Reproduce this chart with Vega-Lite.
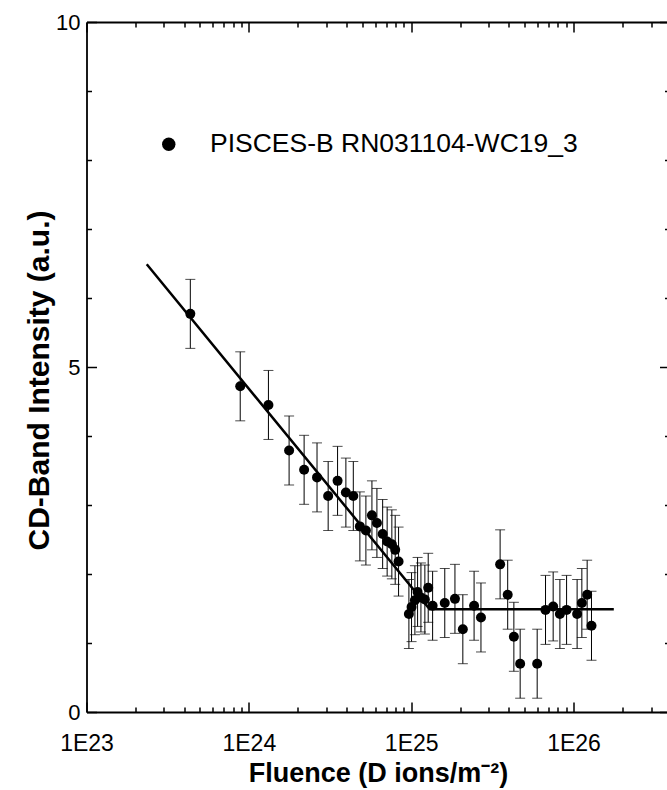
{
  "$schema": "https://vega.github.io/schema/vega-lite/v6.json",
  "width": 583,
  "height": 690,
  "autosize": "none",
  "padding": {"left": 86.5, "top": 22, "right": 0, "bottom": 78},
  "background": "white",
  "config": {
    "view": {"stroke": null},
    "font": "Liberation Sans",
    "axis": {"grid": false, "domainColor": "black", "domainWidth": 1.8, "tickColor": "black", "tickWidth": 1.5, "labelColor": "black", "titleColor": "black", "labelFont": "Liberation Sans", "titleFont": "Liberation Sans", "labelOverlap": false, "labelFlush": false}
  },
  "datasets": {
    "pts": [
      {"fluence": 4.36e23, "intensity": 5.77, "err": 0.5, "series": "PISCES-B RN031104-WC19_3"},
      {"fluence": 8.85e23, "intensity": 4.72, "err": 0.5, "series": "PISCES-B RN031104-WC19_3"},
      {"fluence": 1.32e24, "intensity": 4.45, "err": 0.5, "series": "PISCES-B RN031104-WC19_3"},
      {"fluence": 1.77e24, "intensity": 3.79, "err": 0.5, "series": "PISCES-B RN031104-WC19_3"},
      {"fluence": 2.19e24, "intensity": 3.51, "err": 0.5, "series": "PISCES-B RN031104-WC19_3"},
      {"fluence": 2.63e24, "intensity": 3.40, "err": 0.5, "series": "PISCES-B RN031104-WC19_3"},
      {"fluence": 3.08e24, "intensity": 3.13, "err": 0.5, "series": "PISCES-B RN031104-WC19_3"},
      {"fluence": 3.52e24, "intensity": 3.35, "err": 0.5, "series": "PISCES-B RN031104-WC19_3"},
      {"fluence": 3.96e24, "intensity": 3.18, "err": 0.5, "series": "PISCES-B RN031104-WC19_3"},
      {"fluence": 4.40e24, "intensity": 3.13, "err": 0.5, "series": "PISCES-B RN031104-WC19_3"},
      {"fluence": 4.83e24, "intensity": 2.69, "err": 0.5, "series": "PISCES-B RN031104-WC19_3"},
      {"fluence": 5.26e24, "intensity": 2.63, "err": 0.5, "series": "PISCES-B RN031104-WC19_3"},
      {"fluence": 5.73e24, "intensity": 2.85, "err": 0.5, "series": "PISCES-B RN031104-WC19_3"},
      {"fluence": 6.15e24, "intensity": 2.74, "err": 0.5, "series": "PISCES-B RN031104-WC19_3"},
      {"fluence": 6.67e24, "intensity": 2.58, "err": 0.5, "series": "PISCES-B RN031104-WC19_3"},
      {"fluence": 7.11e24, "intensity": 2.47, "err": 0.5, "series": "PISCES-B RN031104-WC19_3"},
      {"fluence": 7.60e24, "intensity": 2.43, "err": 0.5, "series": "PISCES-B RN031104-WC19_3"},
      {"fluence": 7.97e24, "intensity": 2.35, "err": 0.5, "series": "PISCES-B RN031104-WC19_3"},
      {"fluence": 8.36e24, "intensity": 2.18, "err": 0.5, "series": "PISCES-B RN031104-WC19_3"},
      {"fluence": 9.68e24, "intensity": 1.42, "err": 0.5, "series": "PISCES-B RN031104-WC19_3"},
      {"fluence": 1.005e25, "intensity": 1.52, "err": 0.5, "series": "PISCES-B RN031104-WC19_3"},
      {"fluence": 1.054e25, "intensity": 1.62, "err": 0.5, "series": "PISCES-B RN031104-WC19_3"},
      {"fluence": 1.095e25, "intensity": 1.74, "err": 0.5, "series": "PISCES-B RN031104-WC19_3"},
      {"fluence": 1.148e25, "intensity": 1.66, "err": 0.5, "series": "PISCES-B RN031104-WC19_3"},
      {"fluence": 1.214e25, "intensity": 1.63, "err": 0.5, "series": "PISCES-B RN031104-WC19_3"},
      {"fluence": 1.273e25, "intensity": 1.80, "err": 0.5, "series": "PISCES-B RN031104-WC19_3"},
      {"fluence": 1.355e25, "intensity": 1.54, "err": 0.5, "series": "PISCES-B RN031104-WC19_3"},
      {"fluence": 1.61e25, "intensity": 1.58, "err": 0.5, "series": "PISCES-B RN031104-WC19_3"},
      {"fluence": 1.86e25, "intensity": 1.64, "err": 0.5, "series": "PISCES-B RN031104-WC19_3"},
      {"fluence": 2.08e25, "intensity": 1.20, "err": 0.5, "series": "PISCES-B RN031104-WC19_3"},
      {"fluence": 2.44e25, "intensity": 1.54, "err": 0.5, "series": "PISCES-B RN031104-WC19_3"},
      {"fluence": 2.69e25, "intensity": 1.37, "err": 0.5, "series": "PISCES-B RN031104-WC19_3"},
      {"fluence": 3.53e25, "intensity": 2.14, "err": 0.5, "series": "PISCES-B RN031104-WC19_3"},
      {"fluence": 3.93e25, "intensity": 1.70, "err": 0.5, "series": "PISCES-B RN031104-WC19_3"},
      {"fluence": 4.29e25, "intensity": 1.09, "err": 0.5, "series": "PISCES-B RN031104-WC19_3"},
      {"fluence": 4.69e25, "intensity": 0.70, "err": 0.5, "series": "PISCES-B RN031104-WC19_3"},
      {"fluence": 5.97e25, "intensity": 0.70, "err": 0.5, "series": "PISCES-B RN031104-WC19_3"},
      {"fluence": 6.72e25, "intensity": 1.48, "err": 0.5, "series": "PISCES-B RN031104-WC19_3"},
      {"fluence": 7.49e25, "intensity": 1.53, "err": 0.5, "series": "PISCES-B RN031104-WC19_3"},
      {"fluence": 8.24e25, "intensity": 1.42, "err": 0.5, "series": "PISCES-B RN031104-WC19_3"},
      {"fluence": 9.06e25, "intensity": 1.48, "err": 0.5, "series": "PISCES-B RN031104-WC19_3"},
      {"fluence": 1.052e26, "intensity": 1.42, "err": 0.5, "series": "PISCES-B RN031104-WC19_3"},
      {"fluence": 1.125e26, "intensity": 1.58, "err": 0.5, "series": "PISCES-B RN031104-WC19_3"},
      {"fluence": 1.213e26, "intensity": 1.70, "err": 0.5, "series": "PISCES-B RN031104-WC19_3"},
      {"fluence": 1.29e26, "intensity": 1.25, "err": 0.5, "series": "PISCES-B RN031104-WC19_3"}
    ],
    "fit": [
      {"fluence": 2.35e23, "intensity": 6.49},
      {"fluence": 1.30e25, "intensity": 1.49},
      {"fluence": 1.77e26, "intensity": 1.49}
    ]
  },
  "layer": [
    {
      "data": {"name": "pts"},
      "mark": {"type": "errorbar", "color": "black", "thickness": 1, "ticks": {"size": 10, "thickness": 1, "color": "black"}},
      "encoding": {
        "x": {"field": "fluence", "type": "quantitative",
          "scale": {"type": "log", "domain": [1e23, 3.9e26], "nice": false},
          "axis": {"orient": "bottom",
            "values": [1e23,2e23,3e23,4e23,5e23,6e23,7e23,8e23,9e23,1e24,2e24,3e24,4e24,5e24,6e24,7e24,8e24,9e24,1e25,2e25,3e25,4e25,5e25,6e25,7e25,8e25,9e25,1e26,2e26,3e26],
            "labelExpr": "abs(log(datum.value)/LN10 - round(log(datum.value)/LN10)) < 0.01 ? '1E' + round(log(datum.value)/LN10) : ''",
            "tickSize": {"condition": {"test": "abs(log(datum.value)/LN10 - round(log(datum.value)/LN10)) < 0.01", "value": -10}, "value": -5},
            "labelFontSize": 23, "labelPadding": 30,
            "title": "Fluence (D ions/m⁻²)", "titleFontSize": 27, "titleFontWeight": "bold", "titlePadding": 0}},
        "y": {"field": "intensity", "type": "quantitative",
          "scale": {"domain": [0, 10], "nice": false},
          "axis": {"orient": "left",
            "values": [0,1,2,3,4,5,6,7,8,9,10],
            "labelExpr": "datum.value % 5 === 0 ? datum.label : ''",
            "tickSize": {"condition": {"test": "datum.value % 5 === 0", "value": -10}, "value": -5},
            "labelFontSize": 22, "labelPadding": 16.5,
            "title": "CD-Band Intensity (a.u.)", "titleFontSize": 30, "titleFontWeight": "bold", "titlePadding": 1, "titleY": 358}},
        "yError": {"field": "err"}
      }
    },
    {
      "data": {"name": "pts"},
      "mark": {"type": "point", "filled": true, "size": 100, "opacity": 1, "shape": "circle"},
      "encoding": {
        "x": {"field": "fluence", "type": "quantitative", "scale": {"type": "log", "domain": [1e23, 3.9e26], "nice": false}, "axis": null},
        "y": {"field": "intensity", "type": "quantitative", "scale": {"domain": [0, 10], "nice": false}, "axis": null},
        "color": {"field": "series", "type": "nominal", "scale": {"range": ["#000000"]},
          "legend": {"title": null, "orient": "none", "legendX": 69, "legendY": 109, "padding": 0,
            "symbolType": "circle", "symbolSize": 180, "symbolFillColor": "black", "symbolStrokeColor": "black", "symbolStrokeWidth": 0,
            "labelFontSize": 26.5, "labelFont": "Liberation Sans", "labelColor": "black", "labelOffset": 28, "labelLimit": 0}}
      }
    },
    {
      "data": {"name": "fit"},
      "mark": {"type": "line", "color": "black", "strokeWidth": 2.5},
      "encoding": {
        "x": {"field": "fluence", "type": "quantitative",
          "scale": {"type": "log", "domain": [1e23, 3.9e26], "nice": false},
          "axis": {"orient": "top",
            "values": [1e23,2e23,3e23,4e23,5e23,6e23,7e23,8e23,9e23,1e24,2e24,3e24,4e24,5e24,6e24,7e24,8e24,9e24,1e25,2e25,3e25,4e25,5e25,6e25,7e25,8e25,9e25,1e26,2e26,3e26],
            "labels": false, "title": null,
            "tickSize": {"condition": {"test": "abs(log(datum.value)/LN10 - round(log(datum.value)/LN10)) < 0.01", "value": -10}, "value": -5}}},
        "y": {"field": "intensity", "type": "quantitative",
          "scale": {"domain": [0, 10], "nice": false},
          "axis": {"orient": "right",
            "values": [0,1,2,3,4,5,6,7,8,9,10],
            "labels": false, "title": null,
            "tickSize": {"condition": {"test": "datum.value % 5 === 0", "value": -10}, "value": -5}}}
      }
    }
  ],
  "resolve": {"axis": {"x": "independent", "y": "independent"}}
}
